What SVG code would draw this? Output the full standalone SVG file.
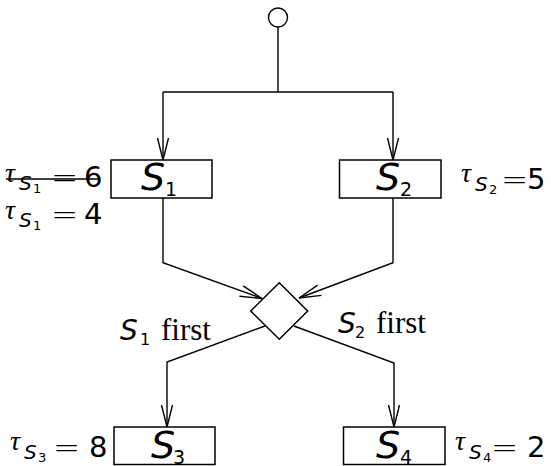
<svg xmlns="http://www.w3.org/2000/svg" width="551" height="466" viewBox="0 0 551 466">
<style>
.ln{stroke:#000;stroke-width:1.4;fill:none}
.box{stroke:#000;stroke-width:1.5;fill:#fff}
.big{font-family:"DejaVu Sans",sans-serif;font-style:oblique;font-size:38px}
.bsub{font-family:"DejaVu Sans",sans-serif;font-size:19px}
.tau{font-family:"Liberation Serif",serif;font-style:italic;font-size:28px}
.ss{font-family:"DejaVu Sans",sans-serif;font-style:oblique;font-size:20px}
.sss{font-family:"DejaVu Sans",sans-serif;font-size:13px}
.num{font-family:"DejaVu Sans",sans-serif;font-size:29px}
.eq{font-family:"DejaVu Sans",sans-serif;font-size:29px;font-weight:200}
.lbS{font-family:"DejaVu Sans",sans-serif;font-style:oblique;font-size:28px}
.lbsub{font-family:"DejaVu Sans",sans-serif;font-size:16px}
.rm{font-family:"Liberation Serif",serif;font-size:31px}
</style>
<defs>
<marker id="arr" markerUnits="userSpaceOnUse" orient="auto" refX="0" refY="0" markerWidth="40" markerHeight="40" viewBox="-30 -20 40 40" overflow="visible">
<path d="M-22,-5.5 L0,0 L-22,5.5" stroke="#000" stroke-width="1.4" fill="none"/>
</marker>
</defs>
<g id="connectors">
<line class="ln" x1="278" y1="27" x2="278" y2="92"/>
<line class="ln" x1="163" y1="92" x2="393" y2="92"/>
<line class="ln" x1="163" y1="92" x2="163" y2="160" marker-end="url(#arr)"/>
<line class="ln" x1="393" y1="92" x2="393" y2="160" marker-end="url(#arr)"/>
<polyline class="ln" points="163,198 163,262.7 262,298.5" marker-end="url(#arr)"/>
<polyline class="ln" points="393,198 393,262.7 299,298" marker-end="url(#arr)"/>
<polyline class="ln" points="265,326 167,362 167,427" marker-end="url(#arr)"/>
<polyline class="ln" points="294,326 394,363 394,427" marker-end="url(#arr)"/>
</g>
<g id="start">
<circle cx="278" cy="17.5" r="9.5" stroke="#000" stroke-width="1.4" fill="#fff"/>
</g>
<g id="decision">
<polygon points="279.3,282.7 307.7,311 279.3,339.3 250.7,311" class="box"/>
</g>
<g id="S1">
<rect class="box" x="111" y="160" width="101" height="38"/>
<text x="141" y="190" class="big">S</text><text x="165" y="196" class="bsub">1</text>
</g>
<g id="S2">
<rect class="box" x="339.5" y="160" width="101.5" height="38"/>
<text x="376" y="190" class="big">S</text><text x="400" y="196" class="bsub">2</text>
</g>
<g id="S3">
<rect class="box" x="114" y="427" width="101" height="37.5"/>
<text x="151" y="458" class="big">S</text><text x="173" y="463.5" class="bsub">3</text>
</g>
<g id="S4">
<rect class="box" x="343.5" y="427" width="101.5" height="37.5"/>
<text x="376" y="458" class="big">S</text><text x="400" y="463.5" class="bsub">4</text>
</g>
<g id="labels">
<text><tspan class="tau" x="5" y="182">τ</tspan><tspan class="ss" x="19" y="190">S</tspan><tspan class="sss" x="33" y="193">1</tspan><tspan class="num" x="84" y="187">6</tspan></text>
<text class="eq" transform="translate(51,187) scale(1.12,1)">=</text>
<line x1="6" y1="179" x2="100" y2="179" stroke="#000" stroke-width="1.4"/>
<text><tspan class="tau" x="5" y="219">τ</tspan><tspan class="ss" x="19" y="227">S</tspan><tspan class="sss" x="33" y="230">1</tspan><tspan class="num" x="84" y="224">4</tspan></text>
<text class="eq" transform="translate(51,224) scale(1.12,1)">=</text>
<text><tspan class="tau" x="461" y="182">τ</tspan><tspan class="ss" x="475" y="191">S</tspan><tspan class="sss" x="489" y="194">2</tspan><tspan class="num" x="527" y="189">5</tspan></text>
<text class="eq" transform="translate(501,189) scale(1.12,1)">=</text>
<text><tspan class="tau" x="10" y="450">τ</tspan><tspan class="ss" x="24" y="459">S</tspan><tspan class="sss" x="38" y="462">3</tspan><tspan class="num" x="89" y="457">8</tspan></text>
<text class="eq" transform="translate(53,457) scale(1.12,1)">=</text>
<text><tspan class="tau" x="455" y="450">τ</tspan><tspan class="ss" x="469" y="459">S</tspan><tspan class="sss" x="483" y="462">4</tspan><tspan class="num" x="527" y="457">2</tspan></text>
<text class="eq" transform="translate(491,457) scale(1.12,1)">=</text>
<text><tspan class="lbS" x="120" y="340">S</tspan><tspan class="lbsub" x="140" y="345">1</tspan><tspan class="rm" x="161" y="340">first</tspan></text>
<text><tspan class="lbS" x="338" y="333">S</tspan><tspan class="lbsub" x="355" y="338">2</tspan><tspan class="rm" x="376" y="333">first</tspan></text>
</g>
</svg>
